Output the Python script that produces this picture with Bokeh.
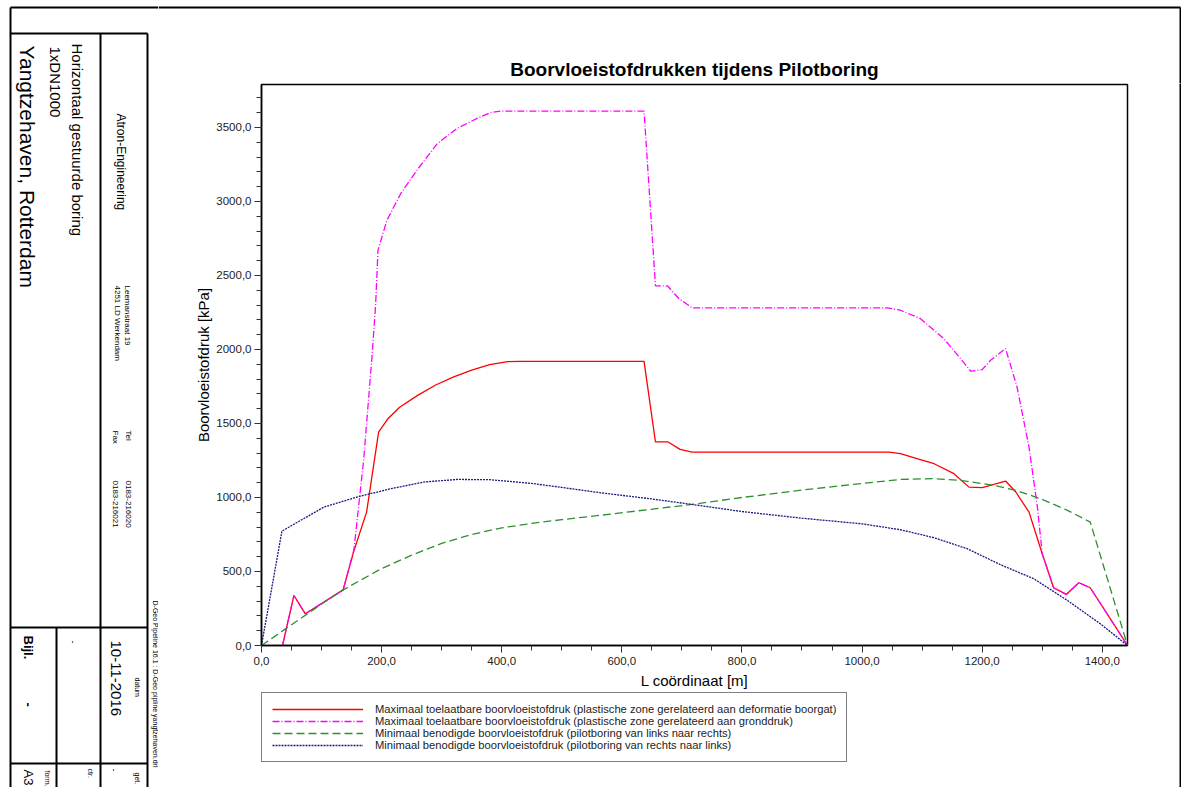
import math
from bokeh.plotting import figure
from bokeh.layouts import row, column
from bokeh.models import (Range1d, SingleIntervalTicker, CustomJSTickFormatter, Legend, LegendItem,
                          ColumnDataSource)
from bokeh.core.properties import value
from bokeh.embed import file_html
from bokeh.resources import INLINE

# ---------------- data ----------------
red_x = [35, 54, 73, 136, 154, 175, 195, 210, 230, 260, 290, 320, 350, 380, 410, 430, 637, 656, 677, 697, 717,
         1045, 1064, 1090, 1120, 1153, 1178, 1200, 1239, 1256, 1278, 1300, 1319, 1340, 1361, 1380, 1442]
red_y = [0, 338, 214, 376, 642, 901, 1442, 1530, 1610, 1690, 1760, 1815, 1860, 1897, 1918, 1920, 1920, 1375, 1375, 1325, 1307,
         1307, 1296, 1265, 1228, 1161, 1070, 1066, 1111, 1037, 901, 620, 390, 345, 424, 390, 0]

mag_x = [35, 54, 73, 136, 154, 170, 184, 190, 194, 209, 232, 259, 293, 326, 359, 381, 398, 637, 656, 676, 695, 717,
         1042, 1064, 1097, 1136, 1164, 1181, 1200, 1214, 1239, 1258, 1278, 1292, 1300, 1319, 1340, 1361, 1380, 1442]
mag_y = [0, 338, 214, 376, 650, 1250, 1950, 2299, 2671, 2874, 3054, 3212, 3392, 3494, 3561, 3600, 3610, 3610, 2430, 2430, 2344, 2281,
         2281, 2265, 2209, 2074, 1938, 1853, 1864, 1927, 2006, 1747, 1341, 935, 620, 390, 345, 424, 390, 0]

grn_x = [0, 50, 100, 136, 200, 250, 300, 350, 400, 450, 500, 565, 717, 800, 900, 1000, 1064, 1119, 1164, 1219, 1256,
         1297, 1342, 1380, 1442]
grn_y = [0, 140, 280, 376, 520, 610, 690, 750, 795, 825, 850, 880, 953, 1000, 1050, 1095, 1122, 1127, 1116, 1082, 1048,
         992, 913, 834, 0]

blu_x = [0, 34, 104, 159, 215, 270, 326, 381, 450, 500, 564, 650, 717, 800, 900, 1000, 1064, 1120, 1175, 1231, 1286,
         1342, 1397, 1442]
blu_y = [0, 773, 935, 1003, 1059, 1104, 1122, 1120, 1095, 1068, 1032, 990, 953, 905, 860, 822, 782, 728, 654, 545, 451,
         304, 146, 0]

series_labels = [
    "Maximaal toelaatbare boorvloeistofdruk (plastische zone gerelateerd aan deformatie boorgat)",
    "Maximaal toelaatbare boorvloeistofdruk (plastische zone gerelateerd aan gronddruk)",
    "Minimaal benodigde boorvloeistofdruk (pilotboring van links naar rechts)",
    "Minimaal benodigde boorvloeistofdruk (pilotboring van rechts naar links)",
]
series_colors = ["#ff0000", "#ff00ff", "#2f8f2f", "#1a1a80"]
series_dash = ["solid", "7 2 1 2", "8 4", "2 1"]

title_text = "Boorvloeistofdrukken tijdens Pilotboring"
x_label = "L coördinaat [m]"
y_label = "Boorvloeistofdruk [kPa]"

# title block texts (drawing frame, read top-to-bottom)
block_text = ["Yangtzehaven, Rotterdam", "1xDN1000", "Horizontaal gestuurde boring", "Atron-Engineering",
              "Leemanstraat 19", "4251 LD Werkendam", "Tel", "Fax", "0183-216020", "0183-216021",
              "datum", "10-11-2016", "-", "Bijl.", "-", "get.", "-", "ctr.", "form.", "A3",
              "D-Geo Pipeline 16.1 : D-Geo pipline yangtzehaven.drl"]

FONT = "Liberation Sans"
W_TOT = 1181
H_TOT = 787
W_A = 158            # title-block strip
TOP_H = 83           # strip above the chart
W_R = 31             # strip right of the chart
CH_BOTTOM = 692      # bottom of chart figure (legend strip below)
RB = 1180            # right page border

def deco_fig(w, h, x0, y0):
    f = figure(width=w, height=h, x_range=Range1d(x0, x0 + w), y_range=Range1d(y0 + h, y0),
               output_backend="svg", toolbar_location=None,
               min_border_left=0, min_border_right=0, min_border_top=0, min_border_bottom=0)
    f.axis.visible = False
    f.grid.visible = False
    f.outline_line_color = None
    f.background_fill_color = "white"
    f.border_fill_color = "white"
    return f

# ---------------- left title block ----------------
fa = deco_fig(W_A, H_TOT, 0, 0)
fa.segment(x0=[10, 10, 10, 100, 147, 10, 56, 10], y0=[7, 7, 33, 33, 33, 627, 627, 763],
           x1=[W_A, 10, 147, 100, 147, 147, 56, 147], y1=[7, 800, 33, 800, 800, 627, 800, 763],
           line_color="black", line_width=2)
blk = ColumnDataSource(dict(
    text=block_text,
    x=[27, 55, 77, 120, 127, 117, 128, 115, 128, 115, 137, 115, 72, 28, 28, 137, 113, 90, 47, 28, 155],
    y=[45, 46, 43, 113, 285, 285, 430, 430, 480, 480, 677, 640, 640, 635, 702, 772, 768, 768, 770, 769, 600],
    size=["21px", "15px", "15px", "12px", "8px", "8px", "8px", "8px", "8px", "8px", "7px", "15px", "9px",
          "13px", "13px", "7px", "9px", "7px", "7px", "13px", "7px"],
    style=["normal"] * 13 + ["bold", "bold"] + ["normal"] * 6,
))
fa.text(x="x", y="y", text="text", source=blk, angle=-math.pi / 2, text_align="left", text_baseline="middle",
        text_font=value(FONT), text_font_size="size", text_font_style="style", text_color="black")

# ---------------- top strip with title ----------------
ft = deco_fig(W_TOT - W_A, TOP_H, W_A, 0)
ft.segment(x0=[W_A, RB], y0=[7, 7], x1=[RB, RB], y1=[7, TOP_H + 2], line_color="black", line_width=2)
ft.text(x=[694], y=[69], text=[title_text], text_align="center", text_baseline="middle",
        text_font=value(FONT), text_font_size="19px", text_font_style="bold", text_color="black")

# ---------------- right strip ----------------
fr = deco_fig(W_R, H_TOT - TOP_H, W_TOT - W_R, TOP_H)
fr.segment(x0=[RB], y0=[TOP_H - 2], x1=[RB], y1=[H_TOT + 5], line_color="black", line_width=2)

# ---------------- chart ----------------
W_B = W_TOT - W_A - W_R
H_B = CH_BOTTOM - TOP_H
p = figure(width=W_B, height=H_B, x_range=Range1d(0, 1442), y_range=Range1d(0, 3790),
           output_backend="svg", toolbar_location=None,
           min_border_left=261 - W_A, min_border_right=W_B - (1127 - W_A), min_border_top=84 - TOP_H,
           min_border_bottom=CH_BOTTOM - 645)
p.xgrid.visible = False
p.ygrid.visible = False
p.outline_line_color = "black"
p.outline_line_width = 1.5
p.background_fill_color = "white"
p.border_fill_color = "white"

fmt = CustomJSTickFormatter(code="return tick.toFixed(1).replace('.', ',');")
p.xaxis.ticker = SingleIntervalTicker(interval=200, num_minor_ticks=4)
p.yaxis.ticker = SingleIntervalTicker(interval=500, num_minor_ticks=5)
for ax in (p.xaxis[0], p.yaxis[0]):
    ax.formatter = fmt
    ax.axis_line_color = "black"
    ax.axis_line_width = 1.5
    ax.major_tick_line_color = "#333"
    ax.minor_tick_line_color = "#333"
    ax.major_tick_in = 0
    ax.minor_tick_in = 0
    ax.major_tick_out = 7
    ax.minor_tick_out = 5
    ax.major_label_text_font = FONT
    ax.major_label_text_font_size = "11.5px"
    ax.major_label_text_color = "#222"
    ax.axis_label_text_font = FONT
    ax.axis_label_text_font_size = "15px"
    ax.axis_label_text_font_style = "normal"
    ax.axis_label_text_color = "black"
p.xaxis.axis_label = x_label
p.yaxis.axis_label = y_label
p.xaxis.major_label_standoff = 4
p.yaxis.major_label_standoff = 3
p.xaxis.axis_label_standoff = 4
p.yaxis.axis_label_standoff = 1

series = [(red_x, red_y), (mag_x, mag_y), (grn_x, grn_y), (blu_x, blu_y)]
for (xs, ys), c, d in zip(series, series_colors, series_dash):
    p.line(xs, ys, line_color=c, line_width=1.3, line_dash=d)

# ---------------- legend strip (below chart) ----------------
fl = deco_fig(W_B, H_TOT - CH_BOTTOM, W_A, CH_BOTTOM)
items = []
for (xs, ys), lab, c, d in zip(series, series_labels, series_colors, series_dash):
    # one-point proxy line (draws nothing in this strip) that carries the series style for the legend
    r = fl.line(x=xs[:1], y=ys[:1], line_color=c, line_width=1.5, line_dash=d)
    items.append(LegendItem(label=lab, renderers=[r]))
legend = Legend(items=items, location=(0, H_TOT - 762), orientation="vertical",
                label_text_font=FONT, label_text_font_size="11.2px", label_text_color="#222",
                glyph_width=91, glyph_height=12, label_height=12, label_standoff=12,
                spacing=0, padding=10, margin=0,
                border_line_color="black", border_line_width=1.5, background_fill_alpha=1.0)
fl.add_layout(legend, "center")

layout = row(fa, column(ft, row(column(p, fl), fr)))

open("out.html", "w").write(file_html(layout, INLINE))
